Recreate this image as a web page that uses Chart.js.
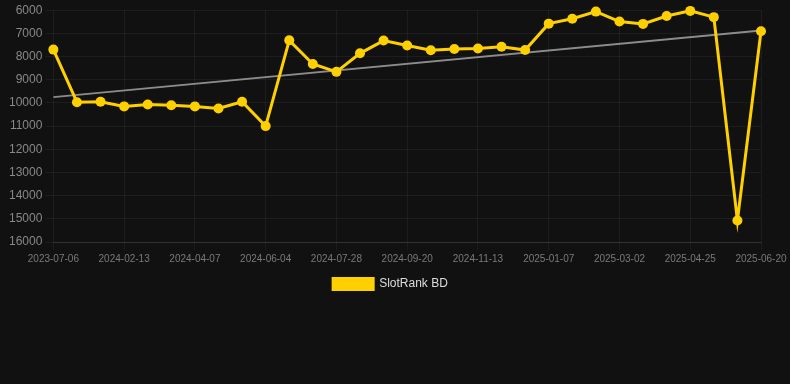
<!DOCTYPE html>
<html>
<head>
<meta charset="utf-8">
<script src="https://cdn.jsdelivr.net/npm/chart.js@4"></script>
<style>
  html, body { margin: 0; padding: 0; background: #111111; }
  #wrap { width: 790px; height: 300px; position: relative; }
</style>
</head>
<body>
<div id="wrap"><canvas id="chart"></canvas></div>
<script>
const dates = [
  "2023-07-06", "2023-09-01", "2023-11-10", "2024-02-13", "2024-02-28", "2024-03-18",
  "2024-04-07", "2024-04-25", "2024-05-14", "2024-06-04", "2024-06-20", "2024-07-08",
  "2024-07-28", "2024-08-14", "2024-09-02", "2024-09-20", "2024-10-08", "2024-10-26",
  "2024-11-13", "2024-12-01", "2024-12-20", "2025-01-07", "2025-01-25", "2025-02-12",
  "2025-03-02", "2025-03-20", "2025-04-07", "2025-04-25", "2025-05-13", "2025-06-01",
  "2025-06-20"
];
const rankValues = [
  7700, 9970, 9950, 10150, 10070, 10100,
  10150, 10240, 9950, 11000, 7300, 8320,
  8660, 7860, 7310, 7520, 7730, 7670,
  7650, 7580, 7720, 6580, 6370, 6060,
  6490, 6590, 6250, 6030, 6300, 15070,
  6910
];
// trend line: only the two end points
const trendValues = dates.map(() => null);
trendValues[0] = 9750;
trendValues[dates.length - 1] = 6880;

const yMin = 6000;
const yMax = 16000;

// nudge the legend a few px right, like the original
const legendShift = {
  id: "legendShift",
  afterLayout(chart) {
    if (chart.legend) {
      chart.legend.left += 7;
      chart.legend.right += 7;
    }
  },
};

const ctx = document.getElementById("chart").getContext("2d");
const chart = new Chart(ctx, {
  type: "line",
  data: {
    labels: dates,
    datasets: [
      {
        label: "SlotRank BD",
        data: rankValues,
        borderColor: "#FFD000",
        backgroundColor: "#FFD000",
        borderWidth: 3,
        pointRadius: 5,
        pointHoverRadius: 5,
        pointBackgroundColor: "#FFD000",
        pointBorderWidth: 0,
        tension: 0,
        clip: false,
        order: 1,
      },
      {
        label: "trend",
        data: trendValues,
        borderColor: "rgba(140,140,140,1)",
        borderWidth: 2,
        pointRadius: 0,
        spanGaps: true,
        order: 2,
      },
    ],
  },
  options: {
    responsive: true,
    maintainAspectRatio: false,
    animation: false,
    layout: { autoPadding: false, padding: { top: 6, right: 29, left: 6, bottom: 0 } },
    scales: {
      x: {
        grid: { color: "rgba(255,255,255,0.05)" },
        border: { color: "rgba(255,255,255,0.1)" },
        ticks: {
          color: "#7a7a7a",
          font: { size: 10, family: "'Liberation Sans', Arial, sans-serif" },
          maxRotation: 0,
          autoSkip: true,
          maxTicksLimit: 11,
        },
      },
      y: {
        reverse: true,
        min: yMin,
        max: yMax,
        grid: { color: "rgba(255,255,255,0.05)" },
        border: { display: false },
        ticks: {
          stepSize: 1000,
          color: "#888",
          font: { size: 12, family: "'Liberation Sans', Arial, sans-serif" },
          callback: (v) => String(v),
        },
      },
    },
    plugins: {
      legend: {
        position: "bottom",
        labels: {
          color: "#ddd",
          boxWidth: 40,
          boxHeight: 11,
          font: { size: 12, family: "'Liberation Sans', Arial, sans-serif" },
          filter: (item) => item.text !== "trend",
        },
      },
      tooltip: { enabled: false },
    },
  },
  plugins: [legendShift],
});
</script>
</body>
</html>
